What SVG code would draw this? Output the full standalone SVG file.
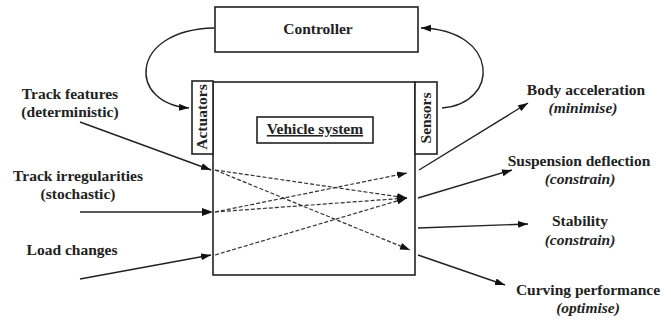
<svg xmlns="http://www.w3.org/2000/svg" width="671" height="320" viewBox="0 0 671 320">
<defs>
<style>
text{font-family:"Liberation Serif","Times New Roman",serif;font-size:15.5px;font-weight:bold;fill:#222;text-anchor:middle}
.it{font-style:italic}
.box{fill:#fff;stroke:#222;stroke-width:1.6}
.ln{fill:none;stroke:#222;stroke-width:1.4}
.ds{fill:none;stroke:#333;stroke-width:1.2;stroke-dasharray:4 2}
</style>
<marker id="ah" markerUnits="userSpaceOnUse" markerWidth="11" markerHeight="8" refX="10" refY="3.5" orient="auto"><path d="M0,0 L10,3.5 L0,7 z" fill="#111"/></marker>
<marker id="ahT" markerUnits="userSpaceOnUse" markerWidth="11" markerHeight="9" refX="1" refY="4" orient="auto"><path d="M0,0 L11,4 L0,8 z" fill="#111"/></marker>
</defs>
<rect width="671" height="320" fill="#fff"/>
<g id="controller"><rect class="box" x="215" y="7" width="203" height="45"/><text x="318" y="34">Controller</text></g>
<g id="vehicle"><rect class="box" x="213" y="82" width="202" height="193"/><rect class="box" x="257" y="117" width="116" height="26" stroke-width="1.2"/><text x="315" y="134" text-decoration="underline">Vehicle system</text></g>
<g id="actuators"><rect class="box" x="192" y="81" width="21" height="73"/><text transform="translate(207,117) rotate(-90)">Actuators</text></g>
<g id="sensors"><rect class="box" x="415" y="82" width="22" height="72"/><text transform="translate(431,118) rotate(-90)">Sensors</text></g>
<g id="labels-in">
<text x="70" y="99">Track features</text><text x="70" y="117">(deterministic)</text>
<text x="78" y="181">Track irregularities</text><text x="78" y="199">(stochastic)</text>
<text x="72" y="255">Load changes</text>
</g>
<g id="labels-out">
<text x="586" y="95">Body acceleration</text><text class="it" x="583" y="113">(minimise)</text>
<text x="579" y="166">Suspension deflection</text><text class="it" x="580" y="184">(constrain)</text>
<text x="580" y="226">Stability</text><text class="it" x="580" y="245">(constrain)</text>
<text x="588" y="295">Curving performance</text><text class="it" x="588" y="313">(optimise)</text>
</g>
<g id="connectors">
<path class="ln" d="M214,28 C128,30 128,104 189,108" marker-end="url(#ah)"/>
<path class="ln" d="M442,108 C500,104 500,30 421,28" marker-end="url(#ah)"/>
<line class="ln" x1="80" y1="122" x2="211" y2="170" marker-end="url(#ah)"/>
<line class="ln" x1="80" y1="212" x2="203" y2="212" stroke-width="4" marker-end="url(#ahT)"/>
<line class="ln" x1="80" y1="279" x2="211" y2="255" marker-end="url(#ah)"/>
<line class="ds" x1="215" y1="170" x2="407" y2="198" marker-end="url(#ah)"/>
<line class="ds" x1="215" y1="170" x2="410" y2="250" marker-end="url(#ah)"/>
<line class="ds" x1="215" y1="212" x2="407" y2="173" marker-end="url(#ah)"/>
<line class="ds" x1="215" y1="212" x2="407" y2="198" marker-end="url(#ah)"/>
<line class="ds" x1="215" y1="255" x2="407" y2="198" marker-end="url(#ah)"/>
<line class="ln" x1="419" y1="170" x2="528" y2="103" marker-end="url(#ah)"/>
<line class="ln" x1="418" y1="198" x2="512" y2="170" marker-end="url(#ah)"/>
<line class="ln" x1="418" y1="228" x2="528" y2="224" marker-end="url(#ah)"/>
<line class="ln" x1="418" y1="255" x2="505" y2="285" marker-end="url(#ah)"/>
</g>
</svg>
